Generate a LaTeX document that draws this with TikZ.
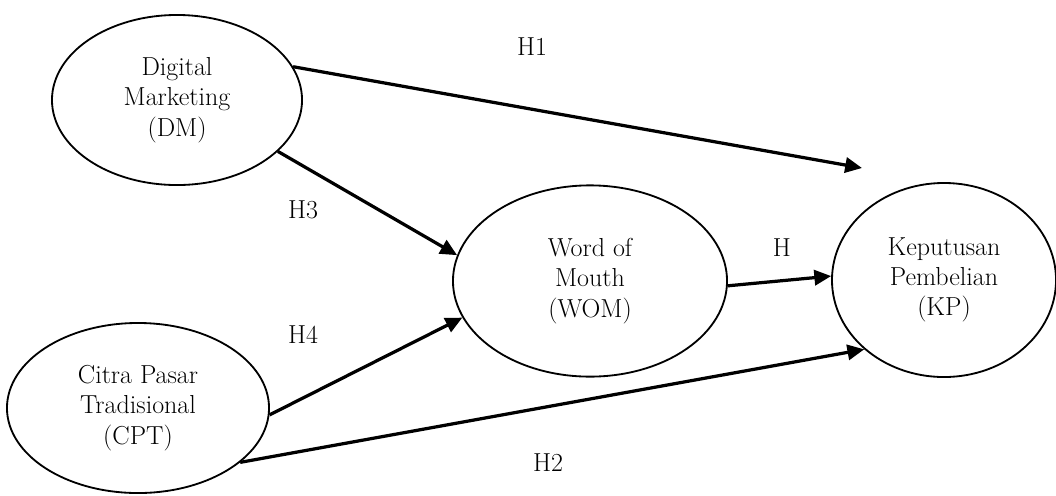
\documentclass[tikz,border=0pt]{standalone}
\usetikzlibrary{shapes.geometric,arrows.meta}

\begin{document}
\begin{tikzpicture}[x=0.025cm,y=-0.025cm,
		var/.style={draw,ellipse,line width=1.3pt,inner sep=0pt,align=center,
			font=\fontsize{18.5}{21.5}\selectfont},
		hyp/.style={line width=2.3pt,-{Triangle[length=0.42cm,width=0.38cm]}},
		lbl/.style={font=\fontsize{18.5}{21.5}\selectfont}]
		%%%%% START %%%%%
		
		\useasboundingbox (0, 0) rectangle (1056, 495);
		
		\node[var, minimum width=6.25cm, minimum height=4.25cm] (dm) at (177, 100) {Digital\\Marketing\\(DM)};
		\node[var, minimum width=6.55cm, minimum height=4.25cm] (cpt) at (138, 408) {Citra Pasar\\Tradisional\\(CPT)};
		\node[var, minimum width=6.85cm, minimum height=4.78cm] (wom) at (590, 281) {Word of\\Mouth\\(WOM)};
		\node[var, minimum width=5.6cm, minimum height=4.85cm] (kp) at (944, 280) {Keputusan\\Pembelian\\(KP)};
		
		\coordinate (h1end) at (862, 168);
		
		\draw[hyp] (dm.16) -- (h1end);
		\draw[hyp] (dm.-27) -- (wom.169);
		\draw[hyp] (wom.-2) -- (kp.178);
		\draw[hyp] (cpt.-3) -- (wom.196);
		\draw[hyp] (cpt.-28) -- (kp.221);
		
		\node[lbl] (h1) at (532, 47) {H1};
		\node[lbl] (h3) at (303, 210) {H3};
		\node[lbl] (h) at (782, 248) {H};
		\node[lbl] (h4) at (303, 335) {H4};
		\node[lbl] (h2) at (548, 463) {H2};
		
		%%%%% END %%%%%
	\end{tikzpicture}
\end{document}
